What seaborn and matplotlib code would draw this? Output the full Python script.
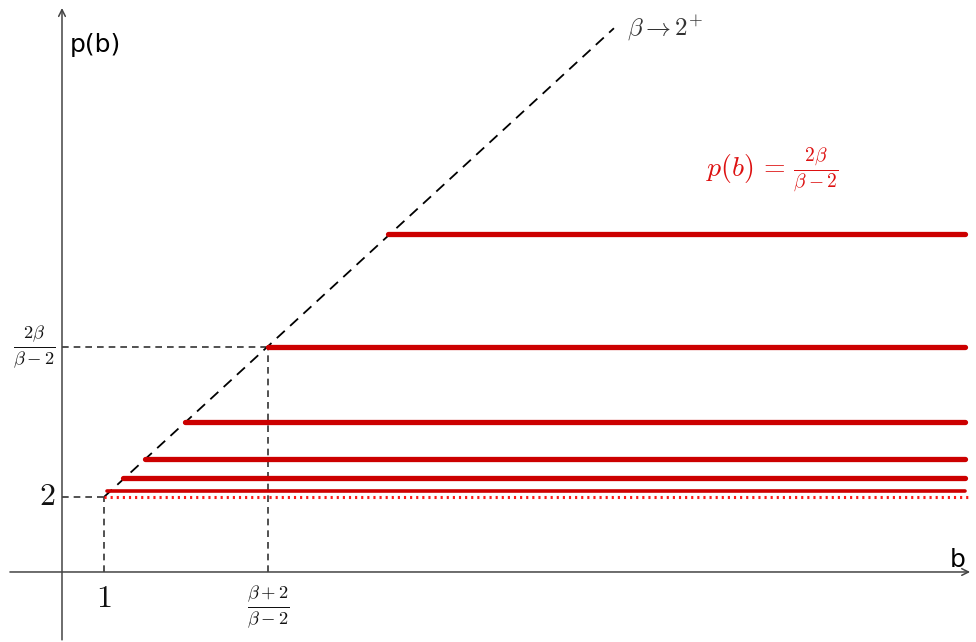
import numpy as np
import pandas as pd
import matplotlib
matplotlib.use("Agg")
import matplotlib.pyplot as plt
import seaborn as sns

sns.set_theme(style="white")
plt.rcParams['mathtext.fontset'] = 'cm'
plt.rcParams['font.family'] = ['DejaVu Sans']

# levels of p(b) (horizontal red lines) and the b where each starts on the diagonal
levels = [9.0, 6.0, 4.0, 3.0, 2.5]
starts = [7.76, 4.9, 2.93, 1.98, 1.45]
thin_level = 2.16
thin_start = 1.07
limit_level = 2.0
limit_start = 1.0
b_end = 21.5
# diagonal beta -> 2+
diag_b = [1.0, 13.14]
diag_p = [2.0, 14.5]
# guide positions
b_one = 1.0
b_frac = 4.9
p_two = 2.0
p_frac = 6.0

x_ticks = [b_one, b_frac]
x_ticklabels = [r'$1$', r'$\frac{\beta+2}{\beta-2}$']
y_ticks = [p_two, p_frac]
y_ticklabels = [r'$2$', r'$\frac{2\beta}{\beta-2}$']

fig = plt.figure(figsize=(9.76, 6.42), dpi=100)
ax = fig.add_axes([0, 0, 1, 1])
ax.set_xlim(-1.476, 21.76)
ax.set_ylim(-1.867, 15.253)
ax.axis('off')

red = '#CC0000'
# thick red levels
rows = []
for i, (lv, st) in enumerate(zip(levels, starts)):
    rows.append({'seg': i, 'b': st, 'p': lv})
    rows.append({'seg': i, 'b': b_end, 'p': lv})
df = pd.DataFrame(rows)
sns.lineplot(data=df, x='b', y='p', units='seg', estimator=None, color=red,
             lw=3.8, solid_capstyle='round', ax=ax, legend=False, zorder=4)
df_thin = pd.DataFrame({'b': [thin_start, b_end], 'p': [thin_level, thin_level]})
sns.lineplot(data=df_thin, x='b', y='p', color=red, lw=2.6, solid_capstyle='round',
             ax=ax, legend=False, zorder=4)
df_lim = pd.DataFrame({'b': [limit_start, b_end + 0.1], 'p': [limit_level, limit_level]})
sns.lineplot(data=df_lim, x='b', y='p', color='#FF1a1a', lw=2.2, ax=ax, legend=False,
             zorder=4, linestyle=(0, (0.7, 1.3)))

# diagonal
df_diag = pd.DataFrame({'b': diag_b, 'p': diag_p})
sns.lineplot(data=df_diag, x='b', y='p', color='black', lw=1.3, ax=ax, legend=False,
             linestyle=(0, (6, 4)), zorder=3)

# guides
g = dict(color='#333333', lw=1.2, linestyle=(0, (4, 3)), zorder=2)
ax.plot([0, b_one], [p_two, p_two], **g)
ax.plot([b_one, b_one], [0, p_two], **g)
ax.plot([0, b_frac], [p_frac, p_frac], **g)
ax.plot([b_frac, b_frac], [0, p_frac], **g)

# axes with arrows
axc = '#444444'
ax.annotate('', xy=(21.62, 0), xytext=(-1.24, 0),
            arrowprops=dict(arrowstyle='->', color=axc, lw=1.1, shrinkA=0, shrinkB=0))
ax.annotate('', xy=(0, 15.04), xytext=(0, -1.81),
            arrowprops=dict(arrowstyle='->', color=axc, lw=1.1, shrinkA=0, shrinkB=0))
ax.text(0.18, 14.06, 'p(b)', fontsize=18, ha='left', va='center', color='black')
ax.text(21.32, 0.33, 'b', fontsize=18, ha='center', va='center', color='black')

# tick labels
for xv, lab in zip(x_ticks, x_ticklabels):
    fs = 23 if lab == r'$1$' else 19
    ax.text(xv, -0.3, lab, fontsize=fs, ha='center', va='top', color='#111111')
for yv, lab in zip(y_ticks, y_ticklabels):
    fs = 23 if lab == r'$2$' else 19
    ax.text(-0.16, yv, lab, fontsize=fs, ha='right', va='center', color='#111111')

ax.text(13.45, 14.5, r'$\beta \rightarrow 2^{+}$', fontsize=18, ha='left', va='center',
        color='#333333')
ax.text(16.9, 10.7, r'$p(b)\,=\,\frac{2\beta}{\beta-2}$', fontsize=20, ha='center',
        va='center', color='#DD1111')

fig.savefig('out.png', dpi=100)
